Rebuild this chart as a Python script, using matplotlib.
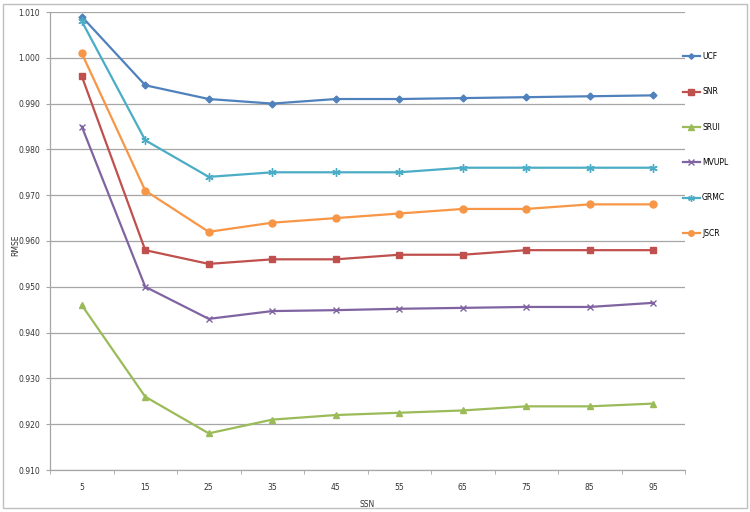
import matplotlib
matplotlib.use("Agg")
import matplotlib.pyplot as plt
from matplotlib.patches import Rectangle
import numpy as np

# Data
ssn = ["5", "15", "25", "35", "45", "55", "65", "75", "85", "95"]
ucf = [1.009, 0.994, 0.991, 0.990, 0.991, 0.991, 0.9912, 0.9914, 0.9916, 0.9918]
snr = [0.996, 0.958, 0.955, 0.956, 0.956, 0.957, 0.957, 0.958, 0.958, 0.958]
srui = [0.946, 0.926, 0.918, 0.921, 0.922, 0.9225, 0.923, 0.9239, 0.9239, 0.9245]
mvupl = [0.985, 0.950, 0.943, 0.9447, 0.9449, 0.9452, 0.9454, 0.9456, 0.9456, 0.9465]
grmc = [1.008, 0.982, 0.974, 0.975, 0.975, 0.975, 0.976, 0.976, 0.976, 0.976]
jscr = [1.001, 0.971, 0.962, 0.964, 0.965, 0.966, 0.967, 0.967, 0.968, 0.968]
y_ticks = [0.910, 0.920, 0.930, 0.940, 0.950, 0.960, 0.970, 0.980, 0.990, 1.000, 1.010]

series = [
    ("UCF", ucf, "#4F81BD", "D", 3.5),
    ("SNR", snr, "#C0504D", "s", 5),
    ("SRUI", srui, "#9BBB59", "^", 5),
    ("MVUPL", mvupl, "#8064A2", "x", 5),
    ("GRMC", grmc, "#4BACC6", (6, 2, 0), 6),
    ("JSCR", jscr, "#F79646", "o", 5),
]

plt.rcParams['font.family'] = ['DejaVu Sans']
fig = plt.figure(figsize=(7.5, 5.12), dpi=100)
ax = fig.add_axes([50 / 750, 1 - 470 / 512, 635 / 750, 458 / 512])

x = np.arange(len(ssn))
for name, vals, color, marker, ms in series:
    ax.plot(x, vals, color=color, marker=marker, markersize=ms, linewidth=1.6,
            label=name, markeredgewidth=1.0)

grid_c = "#A6A6A6"
ax.set_ylim(0.910, 1.010)
ax.set_yticks(y_ticks)
ax.set_yticklabels([f"{v:.3f}" for v in y_ticks])
ax.yaxis.grid(True, color=grid_c, linewidth=0.9)
ax.set_axisbelow(True)

ax.set_xlim(-0.5, len(ssn) - 0.5)
ax.set_xticks(x)
ax.set_xticklabels(ssn)
ax.set_xticks(np.arange(-0.5, len(ssn)), minor=True)
ax.tick_params(axis='x', which='major', length=0, pad=9, labelsize=5.5, colors="#333333")
ax.tick_params(axis='x', which='minor', length=3, color=grid_c, direction='out')
ax.tick_params(axis='y', length=3, color=grid_c, labelsize=5.5, colors="#333333", pad=4)

for s in ["top", "right"]:
    ax.spines[s].set_visible(False)
for s in ["left", "bottom"]:
    ax.spines[s].set_color(grid_c)
    ax.spines[s].set_linewidth(0.9)

ax.set_xlabel("SSN", fontsize=5.5, color="#333333", labelpad=6)
ax.set_ylabel("RMSE", fontsize=5.5, color="#333333")
ax.yaxis.set_label_coords(-30 / 635, 0.49)

fig.legend(loc='upper left', bbox_to_anchor=(683 / 750, 1 - 52 / 512),
           frameon=False, fontsize=5.5, handlelength=2.2, handletextpad=0.3,
           labelspacing=3.45, borderpad=0, borderaxespad=0, markerscale=0.8)

fig.patches.append(Rectangle((3 / 750, 4 / 512), 744 / 750, 504 / 512,
                             transform=fig.transFigure, fill=False,
                             edgecolor="#BFBFBF", linewidth=1))

fig.savefig("out.png", dpi=100)
